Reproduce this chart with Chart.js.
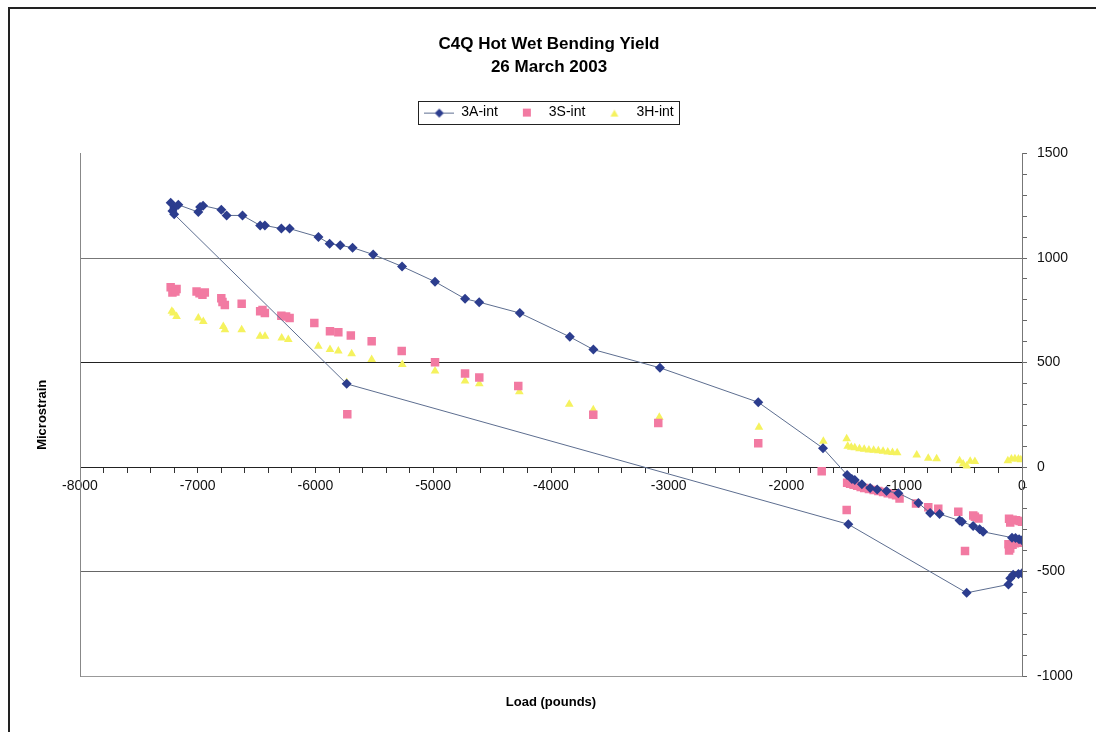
<!DOCTYPE html>
<html>
<head>
<meta charset="utf-8">
<script src="https://cdn.jsdelivr.net/npm/chart.js@4/dist/chart.umd.min.js"></script>
<style>
  body { margin: 0; background: #fff; }
  #wrap { position: relative; width: 1096px; height: 732px; }
  #frame { position: absolute; left: 8px; top: 7px; right: -4px; bottom: -4px; border-left: 2px solid #222; border-top: 2px solid #222; pointer-events: none; }
</style>
</head>
<body>
<div id="wrap">
  <canvas id="chart" width="1096" height="732"></canvas>
  <div id="frame"></div>
</div>
<script>
// 3A-int, in test order (loading then unloading)
const loadA = [0, -25, -55, -85, -330, -360, -415, -510, -530, -700, -780, -880, -1050, -1150, -1230, -1290, -1360, -1420, -1445, -1485,
  -1690, -2240, -3075, -3640, -3840, -4265, -4610, -4730, -4985, -5265, -5510, -5685, -5790, -5880, -5975, -6220, -6290, -6430, -6470,
  -6620, -6755, -6800, -6955, -6980, -6995, -7165, -7200, -7230, -7215, -7200,
  -5735, -1475, -470, -115, -100, -75, -30, 0]
const strainA = [-350, -345, -340, -338, -310, -298, -282, -262, -256, -225, -220, -172, -125, -115, -108, -100, -82, -62, -57, -38,
  90, 310, 475, 562, 623, 737, 789, 805, 887, 960, 1017, 1050, 1061, 1069, 1101, 1141, 1141, 1156, 1156,
  1204, 1204, 1231, 1251, 1244, 1220, 1255, 1240, 1265, 1225, 1210,
  398, -274, -602, -562, -532, -516, -512, -508]

// 3S-int
const loadS = [-7230, -7205, -7180, -7215, -7190, -7010, -6985, -6960, -6940, -6800, -6770, -6790, -6627, -6470, -6430, -6450,
  -6290, -6220, -6250, -6010, -5877, -5806, -5700, -5523, -5268, -5730, -4985, -4730, -4609, -4278, -3641, -3089, -2240, -1701,
  -1489, -1485, -1460, -1430, -1400, -1370, -1340, -1300, -1260, -1220, -1180, -1140, -1100, -1070, -1040,
  -900, -796, -711, -541, -414, -370, -400, -484,
  -110, -80, -50, -20, 0, -100, -115, -100, -80, -60, -30, 0, -110]
const strainS = [860, 848, 852, 835, 840, 840, 832, 825, 835, 808, 776, 790, 781, 745, 737, 752,
  724, 713, 720, 689, 650, 645, 629, 602, 555, 253, 502, 448, 428, 388, 250, 211, 114, -20,
  -206, -75, -80, -85, -90, -95, -100, -105, -110, -115, -120, -125, -130, -135, -150,
  -174, -192, -200, -214, -232, -246, -238, -402,
  -248, -252, -255, -258, -262, -265, -370, -390, -372, -365, -362, -360, -400]

// 3H-int
const loadH = [-7207, -7180, -7220, -6995, -6953, -6783, -6769, -6627, -6471, -6429, -6287, -6231, -5976, -5877, -5806, -5693,
  -5523, -5263, -5735, -4985, -4730, -4609, -4269, -3845, -3641, -3080, -2234, -1687,
  -1489, -1480, -1450, -1420, -1380, -1340, -1300, -1260, -1220, -1180, -1140, -1100, -1060,
  -894, -796, -725, -530, -500, -470, -440, -400, -120, -90, -60, -30, -10]
const strainH = [737, 721, 745, 713, 697, 673, 657, 657, 626, 626, 618, 610, 578, 562, 555, 542,
  515, 491, 404, 460, 412, 399, 360, 301, 274, 238, 190, 124,
  135, 100, 95, 92, 88, 85, 82, 80, 78, 75, 72, 70, 68,
  58, 42, 40, 30, 15, 5, 28, 27, 30, 38, 40, 38, 35]

const seriesNames = ['3A-int', '3S-int', '3H-int']
const xTicks = { min: -8000, max: 0, major: 1000, minor: 200 }
const yTicks = { min: -1000, max: 1500, major: 500, minor: 100 }

const navy = '#2c3d8e'
const lineCol = '#5d6e90'
const pink = '#f27aa2'
const yellow = '#f5f25e'
const fontFam = '"Liberation Sans", Arial, sans-serif'

function toPoints(xs, ys) {
  let pts = []
  for (let i = 0; i < xs.length; i++) {
    pts.push({ x: xs[i], y: ys[i] })
  }
  return pts
}

// small canvases used as legend symbols
function legendIcon(kind) {
  const c = document.createElement('canvas')
  c.width = 30
  c.height = 12
  const g = c.getContext('2d')
  if (kind == 'line') {
    g.strokeStyle = lineCol
    g.lineWidth = 1
    g.beginPath(); g.moveTo(0, 6.5); g.lineTo(30, 6.5); g.stroke()
    g.fillStyle = navy
    g.beginPath(); g.moveTo(15, 2); g.lineTo(19.5, 6.5); g.lineTo(15, 11); g.lineTo(10.5, 6.5); g.closePath(); g.fill()
  } else if (kind == 'rect') {
    g.fillStyle = pink
    g.fillRect(11, 2, 8, 8)
  } else {
    g.fillStyle = yellow
    g.beginPath(); g.moveTo(15, 3); g.lineTo(19, 10); g.lineTo(11, 10); g.closePath(); g.fill()
  }
  return c
}
const icons = [legendIcon('line'), legendIcon('rect'), legendIcon('tri')]

const legendSpace = {
  id: 'legendSpace',
  beforeInit(chart) {
    const fit = chart.legend.fit
    chart.legend.fit = function () {
      fit.bind(chart.legend)()
      this.height += 24
    }
  }
}

const legendBox = {
  id: 'legendBox',
  afterDraw(chart) {
    const boxes = chart.legend.legendHitBoxes
    if (!boxes || !boxes.length) return
    let l = Infinity, r = -Infinity, t = Infinity, b = -Infinity
    for (const h of boxes) {
      l = Math.min(l, h.left); r = Math.max(r, h.left + h.width)
      t = Math.min(t, h.top); b = Math.max(b, h.top + h.height)
    }
    const ctx = chart.ctx
    ctx.save()
    ctx.strokeStyle = '#222'
    ctx.lineWidth = 1
    ctx.strokeRect(Math.round(l - 6) + 0.5, Math.round(t - 5) + 0.5, Math.round(r - l + 12), Math.round(b - t + 9))
    ctx.restore()
  }
}

function yGridColor(ctx) {
  if (!ctx.tick) return 'rgba(0,0,0,0)'
  const v = ctx.tick.value
  if (v == 1000) return '#777'
  if (v == 500) return '#222'
  if (v == -500) return '#666'
  if (v == -1000) return '#999'
  return 'rgba(0,0,0,0)'
}

new Chart(document.getElementById('chart'), {
  type: 'scatter',
  data: {
    datasets: [
      {
        label: seriesNames[0],
        data: toPoints(loadA, strainA),
        showLine: true,
        borderColor: lineCol,
        borderWidth: 1,
        tension: 0,
        pointStyle: 'rectRot',
        pointRadius: 5,
        pointBackgroundColor: navy,
        pointBorderColor: navy,
        pointBorderWidth: 0
      },
      {
        label: seriesNames[1],
        data: toPoints(loadS, strainS),
        showLine: false,
        pointStyle: 'rect',
        pointRadius: 6,
        pointBackgroundColor: pink,
        pointBorderColor: pink,
        pointBorderWidth: 0
      },
      {
        label: seriesNames[2],
        data: toPoints(loadH, strainH),
        showLine: false,
        pointStyle: 'triangle',
        pointRadius: 5,
        pointBackgroundColor: yellow,
        pointBorderColor: yellow,
        pointBorderWidth: 0
      }
    ]
  },
  options: {
    responsive: false,
    animation: false,
    layout: { padding: { top: 20, left: 12, right: 10, bottom: 10 } },
    plugins: {
      title: {
        display: true,
        text: ['C4Q Hot Wet Bending Yield', '26 March 2003'],
        color: '#000',
        font: { family: fontFam, size: 17, weight: 'bold', lineHeight: 1.4 },
        padding: { top: 12, bottom: 12 }
      },
      legend: {
        labels: {
          usePointStyle: true,
          pointStyleWidth: 30,
          boxHeight: 12,
          padding: 14,
          color: '#000',
          font: { family: fontFam, size: 14 },
          generateLabels: (chart) => chart.data.datasets.map((ds, i) => ({
            text: ds.label,
            pointStyle: icons[i],
            fillStyle: 'rgba(0,0,0,0)',
            strokeStyle: 'rgba(0,0,0,0)',
            lineWidth: 0,
            hidden: false,
            datasetIndex: i,
            fontColor: '#000'
          }))
        }
      },
      tooltip: { enabled: false }
    },
    scales: {
      x: {
        type: 'linear',
        position: { y: 0 },
        min: xTicks.min,
        max: xTicks.max,
        ticks: {
          stepSize: xTicks.minor,
          autoSkip: false,
          maxRotation: 0,
          padding: 6,
          color: '#111',
          font: { family: fontFam, size: 14 },
          callback: (v) => v % xTicks.major === 0 ? v : ''
        },
        grid: { drawOnChartArea: false, tickLength: 5, tickColor: '#333' },
        border: { color: '#222', width: 1 }
      },
      xB: {
        type: 'linear',
        position: 'bottom',
        ticks: { display: false },
        grid: { drawOnChartArea: false, drawTicks: false },
        border: { display: false },
        title: {
          display: true,
          text: 'Load (pounds)',
          color: '#000',
          font: { family: fontFam, size: 13, weight: 'bold' },
          padding: { top: 0, bottom: 12 }
        },
        afterFit: (s) => { s.height = 46 }
      },
      y: {
        type: 'linear',
        position: 'right',
        min: yTicks.min,
        max: yTicks.max,
        ticks: {
          stepSize: yTicks.minor,
          autoSkip: false,
          padding: 10,
          color: '#111',
          font: { family: fontFam, size: 14 },
          callback: (v) => v % yTicks.major === 0 ? v : ''
        },
        grid: { color: yGridColor, tickColor: '#666', tickLength: 5, lineWidth: 1 },
        border: { color: '#777', width: 1 },
        afterFit: (s) => { s.width = 64 }
      },
      yL: {
        type: 'linear',
        position: 'left',
        min: yTicks.min,
        max: yTicks.max,
        ticks: { display: false },
        grid: { drawOnChartArea: false, drawTicks: false },
        border: { display: true, color: '#888', width: 1 },
        title: {
          display: true,
          text: 'Microstrain',
          color: '#000',
          font: { family: fontFam, size: 13, weight: 'bold' },
          padding: { top: 23, bottom: 0 }
        },
        afterFit: (s) => { s.width = 68 }
      }
    }
  },
  plugins: [legendSpace, legendBox]
})
</script>
</body>
</html>
